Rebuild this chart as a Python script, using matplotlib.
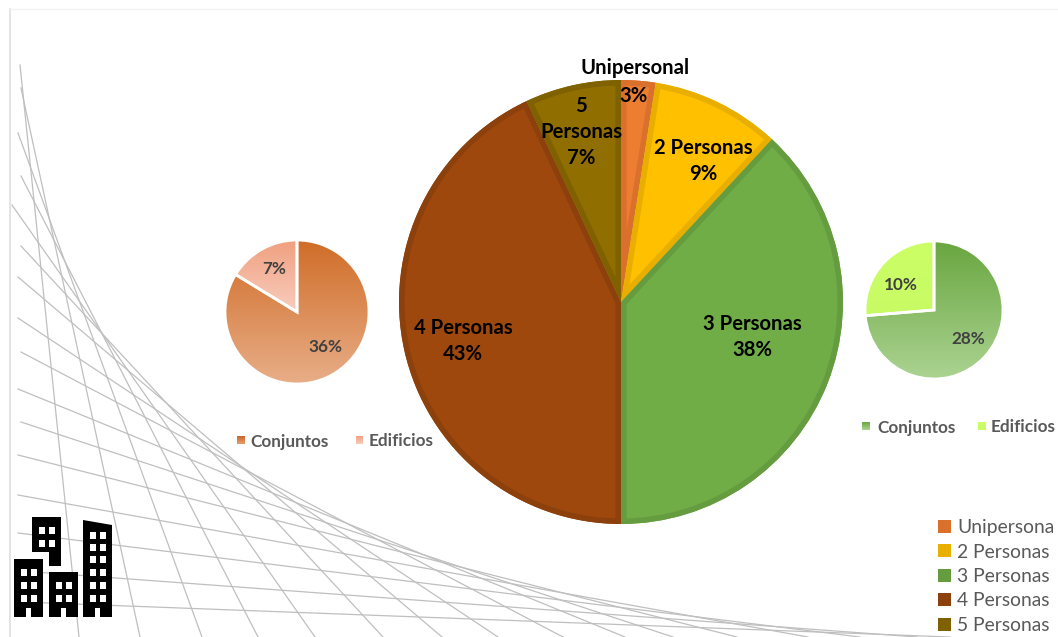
import numpy as np
import matplotlib.pyplot as plt
from matplotlib.colors import LinearSegmentedColormap
from matplotlib.patches import Polygon, Rectangle, Wedge

plt.rcParams['font.family'] = ['Lato', 'DejaVu Sans']

# main pie
categories = ['Unipersonal', '2 Personas', '3 Personas', '4 Personas', '5 Personas']
shares = [2.5, 9.4, 38.1, 43.0, 7.0]
fills = ['#ED7D31', '#FFC000', '#70AD47', '#9E480E', '#916E00']
edges = ['#D9702B', '#E8AE00', '#659C40', '#8C400C', '#806100']

# small pies
left_values = [36, 7]
right_values = [28, 10]
small_names = ['Conjuntos', 'Edificios']

# background lines, left end to bottom end
line_x0 = [20, 21, 18, 21, 12, 21, 18, 18, 21, 18, 21, 18, 18, 18, 21, 21]
line_y0 = [65, 88, 133, 176, 205, 246, 277, 318, 352, 389, 422, 455, 495, 533, 571, 602]
line_x1 = [79, 140, 202, 258, 315, 383, 442, 498, 563, 625, 673, 737, 808, 860, 917, 950]

W, H = 1058, 637
fig = plt.figure(figsize=(W / 100, H / 100), dpi=100)
ax = fig.add_axes([0, 0, 1, 1])


def py(y):
    return H - y


def grad(top, bottom, extent, clip=None, zorder=1):
    cmap = LinearSegmentedColormap.from_list('g', [top, bottom])
    im = ax.imshow(np.linspace(0, 1, 128).reshape(-1, 1), cmap=cmap, aspect='auto',
                   extent=extent, origin='upper', zorder=zorder, interpolation='bilinear')
    if clip is not None:
        im.set_clip_path(clip)
    return im


def label(x, y, s, size=14.6, color='black', weight='bold', ha='center'):
    return ax.text(x, py(y + 1.5), s, fontsize=size, color=color, fontweight=weight, ha=ha, va='center', zorder=6)


# frame
ax.plot([10, 10], [py(9), py(637)], color='#E4E4E4', lw=1.4, zorder=0)
ax.plot([10, W], [py(9), py(9)], color='#F2F2F2', lw=1, zorder=0)

for x0, y0, x1 in zip(line_x0, line_y0, line_x1):
    ax.plot([x0, x1], [py(y0), py(H)], color='#BFBFBF', lw=0.9, zorder=0.5)

# main pie, the darker border stays inside each slice
wedges, _ = ax.pie(shares, colors=fills, center=(621, py(302)), radius=222, startangle=90,
                   counterclock=False, frame=True)
for w, c in zip(wedges, edges):
    w.set_zorder(2)
    border = Wedge(w.center, w.r, w.theta1, w.theta2, facecolor='none', edgecolor=c, linewidth=8,
                   joinstyle='miter', zorder=2.5)
    ax.add_patch(border)
    border.set_clip_path(w)

# left small pie
wl, _ = ax.pie(left_values, colors=['none', 'none'], center=(297, py(312)), radius=72, startangle=90,
               counterclock=False, frame=True, wedgeprops={'edgecolor': 'white', 'linewidth': 2})
grad('#D06D28', '#E8AE88', (225, 369, py(384), py(240)), wl[0])
grad('#F0A080', '#F8CDBD', (225, 298, py(312), py(240)), wl[1])

# right small pie
wr, _ = ax.pie(right_values, colors=['none', 'none'], center=(934, py(310)), radius=69, startangle=90,
               counterclock=False, frame=True, wedgeprops={'edgecolor': 'white', 'linewidth': 2})
grad('#69A640', '#ABD391', (865, 1003, py(379), py(241)), wr[0])
grad('#CCFF66', '#C8FA64', (865, 934, py(316), py(241)), wr[1])
for w in list(wl) + list(wr):
    w.set_zorder(3)

# pie labels
label(635, 67, 'Unipersonal')
label(634, 95, '3%')
label(581, 105, '5')
label(581, 131, 'Personas')
label(581, 157, '7%')
label(703, 147, '2 Personas')
label(703, 173, '9%')
label(752, 323, '3 Personas')
label(752, 349, '38%')
label(463, 326, '4 Personas')
label(463, 352, '43%')
label(274, 267, '7%', size=12.3, color='#404040')
label(325, 346, '36%', size=12.3, color='#404040')
label(901, 283, '10%', size=12.3, color='#404040')
label(968, 338, '28%', size=12.3, color='#404040')

# small legends
grad('#C8662A', '#E8A070', (237, 245, py(444), py(436)))
label(250, 440, small_names[0], size=12.3, color='#595959', ha='left')
grad('#F0A080', '#F8CDBD', (356, 363, py(444), py(436)))
label(369, 440, small_names[1], size=12.3, color='#595959', ha='left')
grad('#69A640', '#ABD391', (862, 870, py(430), py(422)))
label(877, 426, small_names[0], size=12.3, color='#595959', ha='left')
grad('#CCFF66', '#C8FA64', (978, 986, py(430), py(422)))
label(991, 426, small_names[1], size=12.3, color='#595959', ha='left')

# big legend, cut at the right like the original
cut = Rectangle((0, 0), 1054, H, transform=ax.transData)
for i, name in enumerate(categories):
    yc = 526 + i * 24.5
    ax.add_patch(Rectangle((938, py(yc + 6.5)), 13, 13, facecolor=edges[i], edgecolor='none', zorder=4))
    t = label(957, yc, name, size=13.9, color='#595959', weight='normal', ha='left')
    t.set_clip_path(cut)
    t.set_clip_on(True)

# buildings icon
blocks = [
    [(32, 517), (61, 517), (61, 566), (49, 566), (49, 552), (32, 552)],
    [(14, 559), (43, 559), (43, 617), (31, 617), (31, 608), (26, 608), (26, 617), (14, 617)],
    [(49, 572), (78, 572), (78, 617), (66, 617), (66, 608), (61, 608), (61, 617), (49, 617)],
    [(83, 520), (112, 525), (112, 617), (100, 617), (100, 608), (95, 608), (95, 617), (83, 617)],
]
for b in blocks:
    ax.add_patch(Polygon([(x, py(y)) for x, y in b], facecolor='black', edgecolor='none', zorder=4))
windows = [
    ([38.5, 48.5], [527, 540]),
    ([21, 31], [569, 582, 595]),
    ([56, 66], [582, 595]),
    ([90, 100], [532, 544, 556, 569, 582, 595]),
]
for xs, ys in windows:
    for wx in xs:
        for wy in ys:
            ax.add_patch(Rectangle((wx, py(wy + 6.5)), 6, 6.5, facecolor='white', edgecolor='none', zorder=5))

ax.set_xlim(0, W)
ax.set_ylim(0, H)
ax.axis('off')
fig.savefig('out.png', dpi=100)
